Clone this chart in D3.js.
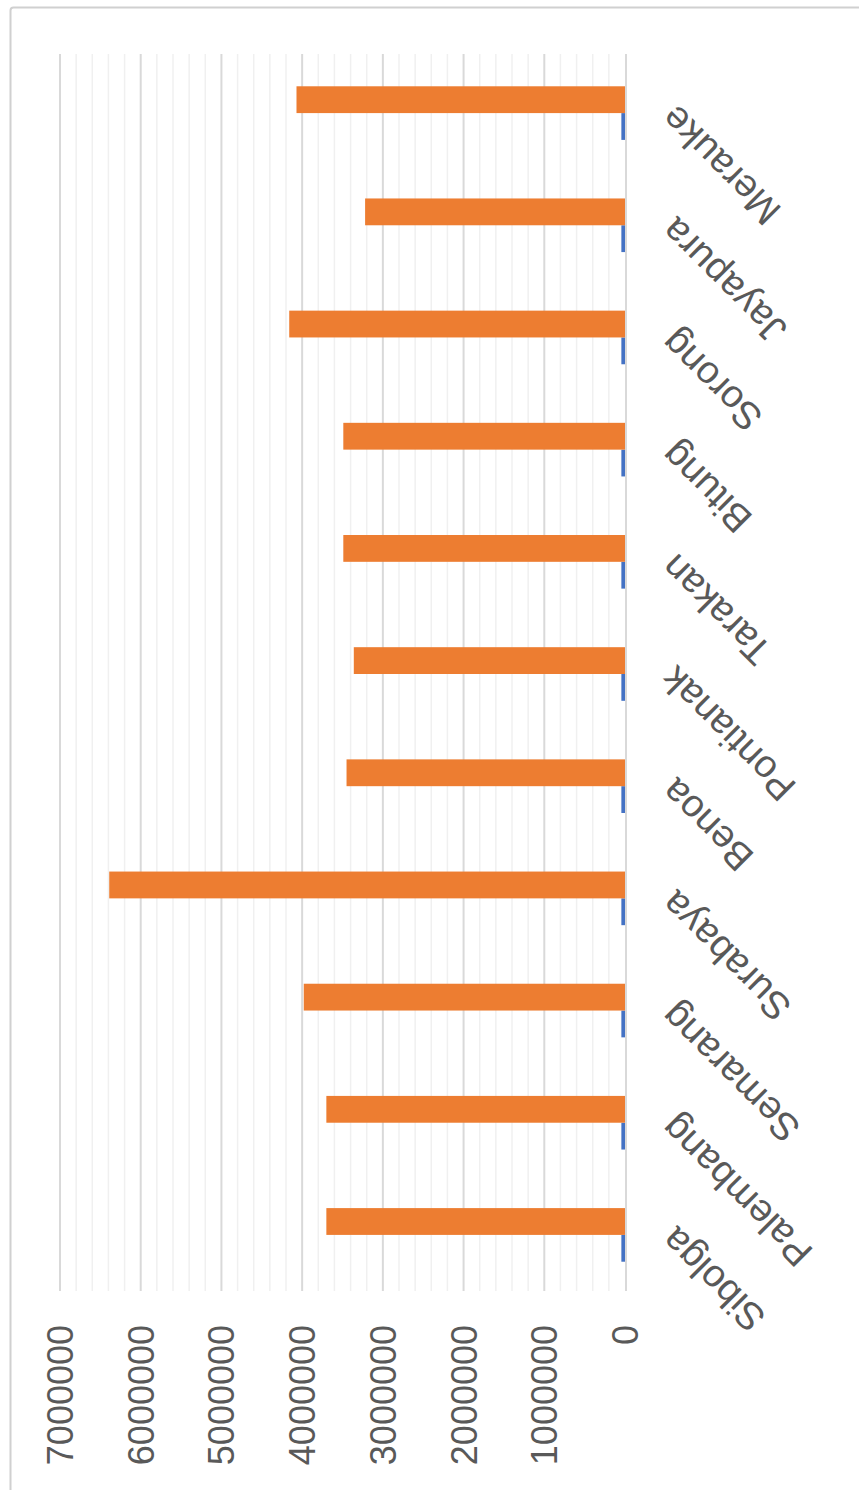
<!DOCTYPE html>
<html>
<head>
<meta charset="utf-8">
<script src="https://cdn.jsdelivr.net/npm/d3@7"></script>
<style>
  body { margin: 0; background: #fff; }
  text { font-family: 'Liberation Sans', Arial, sans-serif; }
</style>
</head>
<body>
<div id="chart"></div>
<script>
// chart data (columns left to right before rotation)
const ports = ['Sibolga', 'Palembang', 'Semarang', 'Surabaya', 'Benoa', 'Pontianak', 'Tarakan', 'Bitung', 'Sorong', 'Jayapura', 'Merauke']
const seriesBlue = [45000, 45000, 45000, 45000, 45000, 45000, 45000, 45000, 45000, 45000, 45000]
const seriesOrange = [3700000, 3700000, 3980000, 6390000, 3450000, 3360000, 3490000, 3490000, 4160000, 3220000, 4070000]
const tickValues = [0, 1000000, 2000000, 3000000, 4000000, 5000000, 6000000, 7000000]
const seriesNames = ['blue', 'orange']

const width = 859
const height = 1490

const svg = d3
  .select('#chart')
  .append('svg')
  .attr('width', width)
  .attr('height', height)

// chart frame
svg
  .append('rect')
  .attr('x', 10.5)
  .attr('y', 7.5)
  .attr('width', 900)
  .attr('height', 1500)
  .attr('rx', 3)
  .attr('fill', '#fff')
  .attr('stroke', '#d0d0d0')
  .attr('stroke-width', 2)

// the whole column chart is drawn normally, then turned 90deg counter-clockwise
const g = svg.append('g').attr('transform', 'translate(0,' + height + ') rotate(-90)')

const xScale = d3
  .scaleBand()
  .domain(ports)
  .range([199, 1433])
  .paddingInner(0.522)
  .paddingOuter(0.261)

const xSub = d3
  .scaleBand()
  .domain(seriesNames)
  .range([0, xScale.bandwidth()])

const yScale = d3
  .scaleLinear()
  .domain([0, 7000000])
  .range([625, 60])

const colorScale = d3.scaleOrdinal().domain(seriesNames).range(['#4472C4', '#ED7D31'])

// minor gridlines
const minorTicks = d3.range(0, 7000001, 200000).filter(d => d % 1000000 !== 0)
g.selectAll('.minor')
  .data(minorTicks)
  .enter()
  .append('line')
  .attr('x1', 199)
  .attr('x2', 1436)
  .attr('y1', d => yScale(d))
  .attr('y2', d => yScale(d))
  .attr('stroke', '#f0f0f0')
  .attr('stroke-width', 1.5)

// major gridlines
g.selectAll('.major')
  .data(tickValues.slice(1))
  .enter()
  .append('line')
  .attr('x1', 199)
  .attr('x2', 1436)
  .attr('y1', d => yScale(d))
  .attr('y2', d => yScale(d))
  .attr('stroke', '#d9d9d9')
  .attr('stroke-width', 2)

// bars
const rows = ports.map((p, i) => ({ port: p, values: [seriesBlue[i], seriesOrange[i]] }))

g.selectAll('.group')
  .data(rows)
  .enter()
  .append('g')
  .attr('transform', d => 'translate(' + xScale(d.port) + ',0)')
  .each(function(d) {
    d3.select(this)
      .selectAll('rect')
      .data(d.values.map((v, i) => ({ key: seriesNames[i], value: v })))
      .enter()
      .append('rect')
      .attr('x', v => xSub(v.key))
      .attr('width', xSub.bandwidth())
      .attr('y', v => yScale(v.value))
      .attr('height', v => yScale(0) - yScale(v.value))
      .attr('fill', v => colorScale(v.key))
  })

// category axis line
g.append('line')
  .attr('x1', 199)
  .attr('x2', 1436)
  .attr('y1', yScale(0) + 1)
  .attr('y2', yScale(0) + 1)
  .attr('stroke', '#d9d9d9')
  .attr('stroke-width', 2)

// value tick labels
g.selectAll('.tick-label')
  .data(tickValues)
  .enter()
  .append('text')
  .text(d => d)
  .attr('x', 165)
  .attr('y', d => yScale(d))
  .attr('dy', '0.36em')
  .attr('text-anchor', 'end')
  .attr('font-size', 36)
  .attr('fill', '#595959')

// category labels, slanted
g.selectAll('.cat-label')
  .data(ports)
  .enter()
  .append('text')
  .text(d => d)
  .attr('transform', d => 'translate(' + (xScale(d) + xScale.bandwidth() / 2 + 10) + ',677) rotate(-45)')
  .attr('text-anchor', 'end')
  .attr('font-size', 38.5)
  .attr('fill', '#595959')
</script>
</body>
</html>
